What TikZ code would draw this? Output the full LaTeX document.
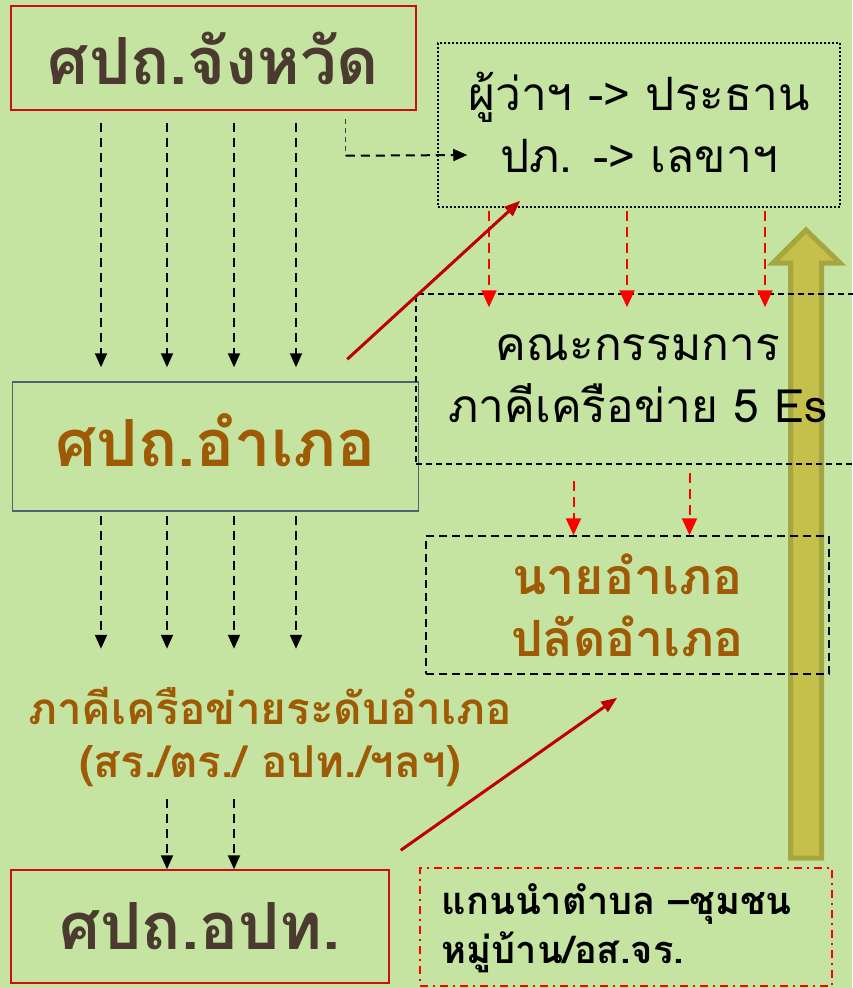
\documentclass[tikz,border=0pt]{standalone}
\usepackage{fontspec}
\newfontfamily\thaifont[Script=Thai]{Loma}
\usetikzlibrary{arrows.meta,calc}
\definecolor{bggreen}{RGB}{197,228,162}
\definecolor{boxred}{RGB}{200,16,16}
\definecolor{arrred}{RGB}{192,0,0}
\definecolor{darkbrown}{RGB}{75,58,48}
\definecolor{ambrown}{RGB}{158,90,4}
\definecolor{slategrey}{RGB}{79,98,114}
\definecolor{olivefill}{RGB}{197,191,76}
\definecolor{oliveline}{RGB}{166,166,64}
\begin{document}
\begin{tikzpicture}[x=1pt,y=-1pt,
    box/.style={draw,line width=1.5pt,inner sep=0pt,align=center},
    bigtxt/.style={font={\thaifont\bfseries\fontsize{65}{70}\selectfont}},
    midtxt/.style={font={\thaifont\fontsize{46}{62}\selectfont}},
    ambtxt/.style={text=ambrown,align=center,font={\thaifont\bfseries\fontsize{50}{62}\selectfont}},
    darr/.style={dash pattern=on 9pt off 6pt,line width=2pt,-{Triangle[width=12pt,length=14pt]}},
    rarr/.style={red,dash pattern=on 10pt off 6pt,line width=2pt,-{Triangle[width=15pt,length=17pt]}},
    sarr/.style={arrred,line width=3pt,-{Triangle[width=12pt,length=16pt]}}]
\useasboundingbox[fill=bggreen] (0,0) rectangle (852,988);
\filldraw[fill=olivefill,draw=oliveline,line width=5pt,line join=miter]
    (790.5,858)--(790.5,263)--(773,263)--(806,230)--(840,263)--(821.5,263)--(821.5,858)--cycle;

\node[box,draw=boxred,minimum width=405pt,minimum height=104pt,text=darkbrown,bigtxt] (jangwat) at (213.5,58) {ศปถ.จังหวัด};
\node[box,dash pattern=on 2pt off 2pt,minimum width=402pt,minimum height=164pt,midtxt] (phuwa) at (639,125) {\raisebox{5pt}{ผู้ว่าฯ -> ประธาน}\\\raisebox{5pt}{ปภ. -> เลขาฯ}};
\node[box,draw=slategrey,minimum width=406pt,minimum height=129pt,text=ambrown,bigtxt] (amphoe) at (215.5,446.5) {\raisebox{12pt}{ศปถ.อำเภอ}};
\node[box,dash pattern=on 6pt off 4pt,minimum width=444pt,minimum height=170pt,midtxt] (khana) at (638,379) {คณะกรรมการ\\ภาคีเครือข่าย 5 Es};
\node[box,dash pattern=on 8pt off 5pt,minimum width=403pt,minimum height=138pt,ambtxt] (nai) at (627.5,605) {นายอำเภอ\\ปลัดอำเภอ};
\node[ambtxt,font={\thaifont\bfseries\fontsize{44}{53}\selectfont}] (net) at (270,737) {ภาคีเครือข่ายระดับอำเภอ\\(สร./ตร./ อปท./ฯลฯ)};
\node[box,draw=boxred,minimum width=378pt,minimum height=113pt,text=darkbrown,bigtxt] (opt) at (200,926.5) {ศปถ.อปท.};
\node[box,red,dash pattern=on 8pt off 5pt on 2pt off 5pt,minimum width=412pt,minimum height=118pt] (kaen) at (626,927) {};
\node[anchor=west,align=left,font={\thaifont\bfseries\fontsize{38}{49}\selectfont}] (kaentxt) at (438,928) {แกนนำตำบล –ชุมชน\\หมู่บ้าน/อส.จร.};

\foreach \dx in {-112.5,-46.5,20.5,82.5}{
    \draw[darr] ($(jangwat.south)+(\dx,12)$)--($(amphoe.north)+(\dx-2,-14)$);
    \draw[darr] ($(amphoe.south)+(\dx-2,4)$)--($(amphoe.south)+(\dx-2,137)$);
}
\foreach \dx in {-33,34}
    \draw[darr] ($(opt.north)+(\dx,-70)$)--($(opt.north)+(\dx,0)$);
\draw[slategrey!70!black,dash pattern=on 5pt off 4pt,line width=1.2pt] ($(jangwat.south east)+(-71,8)$) coordinate (c1)--++(0,37) coordinate (c2);
\draw[darr] (c2)--($(phuwa.west)+(30,30)$);
\foreach \dx in {-150,-12,126}
    \draw[rarr] ($(phuwa.south)+(\dx,3)$)--($(khana.north)+(\dx+1,14)$);
\draw[rarr] ($(nai.north)+(-54,-54)$)--($(nai.north)+(-54,0)$);
\draw[rarr] ($(nai.north)+(62,-62)$)--($(nai.north)+(62,0)$);
\draw[sarr] ($(amphoe.north east)+(-72,-22)$)--($(phuwa.south west)+(83,-7)$);
\draw[sarr] ($(opt.north east)+(11,-19)$)--($(nai.south west)+(192,23)$);
\end{tikzpicture}
\end{document}
